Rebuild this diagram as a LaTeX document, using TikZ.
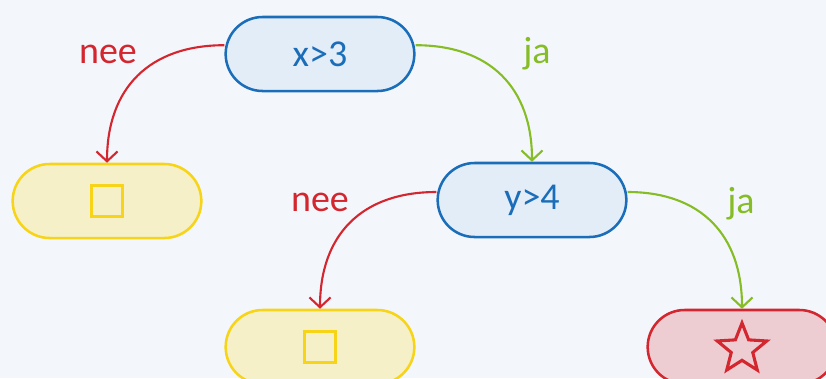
\documentclass[tikz,border=0pt]{standalone}
\usepackage{fontspec}
\setmainfont{Carlito}
\usetikzlibrary{arrows.meta,shapes.misc,shapes.geometric}
\definecolor{bg}{HTML}{F3F7FC}
\definecolor{testline}{HTML}{1A6DB8}
\definecolor{testfill}{HTML}{E3EDF8}
\definecolor{neeline}{HTML}{D3262E}
\definecolor{jaline}{HTML}{86BC25}
\definecolor{geelline}{HTML}{F7D417}
\definecolor{geelfill}{HTML}{F5F0C8}
\definecolor{roodfill}{HTML}{EDCDD1}
\tikzstyle{test}=[rounded rectangle, draw=testline, fill=testfill, line width=1.8pt, minimum width=4.95cm, minimum height=1.85cm, text=testline, font=\fontsize{27}{31}\selectfont]
\tikzstyle{leaf}=[rounded rectangle, line width=1.8pt, minimum width=4.95cm, minimum height=1.85cm]
\tikzstyle{nee}=[draw=neeline, line width=1.5pt, looseness=1.15, -{Straight Barb[length=7pt,width=15pt,line width=1.5pt]}]
\tikzstyle{ja}=[draw=jaline, line width=1.5pt, looseness=1.15, -{Straight Barb[length=7pt,width=15pt,line width=1.5pt]}]
\tikzstyle{word}=[font=\fontsize{27}{31}\selectfont]
\newcommand{\test}{\node[test]}
\newcommand{\leaf}{\node[leaf]}

\begin{document}
\begin{tikzpicture}[x=0.025cm,y=-0.025cm]
\fill[bg] (0,0) rectangle (826,378);
\useasboundingbox (0,0) rectangle (826,378);

\test (x3) at (320,54) {x>3};
    \test (y4) at (532,200) {y>4};
    \leaf[draw=geelline, fill=geelfill] (l1) at (107,201) {};
    \leaf[draw=geelline, fill=geelfill] (l2) at (320,347) {};
    \leaf[draw=neeline, fill=roodfill] (l3) at (742,347) {};
    \node[draw=geelline, line width=2.2pt, minimum size=0.78cm, inner sep=0pt] (s1) at (107,201) {};
    \node[draw=geelline, line width=2.2pt, minimum size=0.78cm, inner sep=0pt] (s2) at (320,347) {};
    \node[star, star points=5, star point ratio=2.3, draw=neeline, line width=2.2pt, minimum size=1.3cm, inner sep=0pt] (s3) at (742,349) {};
    \node[word, text=neeline] (n1) at (108,54) {nee};
    \node[word, text=jaline] (j1) at (537,54) {ja};
    \node[word, text=neeline] (n2) at (320,202) {nee};
    \node[word, text=jaline] (j2) at (741,204) {ja};
    ;
    \path
    ([yshift=0.22cm]x3.west) edge[nee, out=180, in=90] (l1.north)
    ([yshift=0.22cm]x3.east) edge[ja, out=0, in=90] (y4.north)
    ([yshift=0.2cm]y4.west) edge[nee, out=180, in=90] (l2.north)
    ([yshift=0.2cm]y4.east) edge[ja, out=0, in=90] (l3.north)
    ;
\end{tikzpicture}
\end{document}
